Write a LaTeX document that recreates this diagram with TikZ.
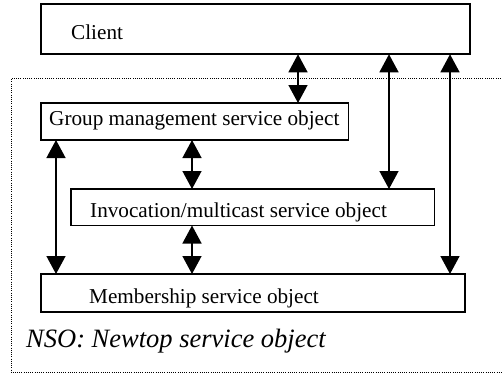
\documentclass[tikz,border=0pt]{standalone}
\usepackage{fontspec}
\setmainfont{Liberation Serif}
\usetikzlibrary{arrows.meta}
\begin{document}
\begin{tikzpicture}[x=1pt,y=-1pt,
  box/.style={draw,line width=1.7pt,inner sep=0pt,outer sep=0pt},
  lbl/.style={anchor=base west,inner sep=0pt,font=\fontsize{21.2}{24}\selectfont},
  conn/.style={line width=1.4pt,{Triangle[width=19pt,length=18pt]}-{Triangle[width=19pt,length=18pt]}},
  nso/.style={draw,line width=0.9pt,dash pattern=on 0.9pt off 1.3pt}]
\useasboundingbox (0,0) rectangle (502,373);
% boxes
\node[box,minimum width=429.3pt,minimum height=50.3pt] (client) at (255.35,29.15) {};
\node[box,minimum width=307.8pt,minimum height=37pt] (group) at (194.6,121.5) {};
\node[box,minimum width=363.8pt,minimum height=36.5pt] (inv) at (252.6,207.25) {};
\node[box,minimum width=424pt,minimum height=38pt] (mem) at (253,293) {};
% NSO region
\coordinate (nsoA) at (503,78.3);
\coordinate (nsoB) at (11,78.3);
\coordinate (nsoC) at (11,372.3);
\coordinate (nsoD) at (503,372.3);
\draw[nso] (nsoA) -- (nsoB) -- (nsoC) -- (nsoD);
% labels
\node[lbl] (tclient) at (71,39.3) {Client};
\node[lbl] (tgroup) at (49,125.5) {Group management service object};
\node[lbl] (tinv) at (90,217.7) {Invocation/multicast service object};
\node[lbl] (tmem) at (89,303.3) {Membership service object};
\node[anchor=base west,inner sep=0pt,font=\fontsize{26.5}{30}\selectfont\itshape] (tnso) at (26,347.3) {NSO: Newtop service object};
% connector columns
\coordinate (c1) at (298,0);
\coordinate (c2) at (389,0);
\coordinate (c3) at (450,0);
\coordinate (c4) at (56,0);
\coordinate (c5) at (192,0);
\draw[conn] (client.south -| c1) -- (group.north -| c1);
\draw[conn] (client.south -| c2) -- (inv.north -| c2);
\draw[conn] (client.south -| c3) -- (mem.north -| c3);
\draw[conn] (group.south -| c4) -- (mem.north -| c4);
\draw[conn] (group.south -| c5) -- (inv.north -| c5);
\draw[conn] (inv.south -| c5) -- (mem.north -| c5);
\end{tikzpicture}
\end{document}
